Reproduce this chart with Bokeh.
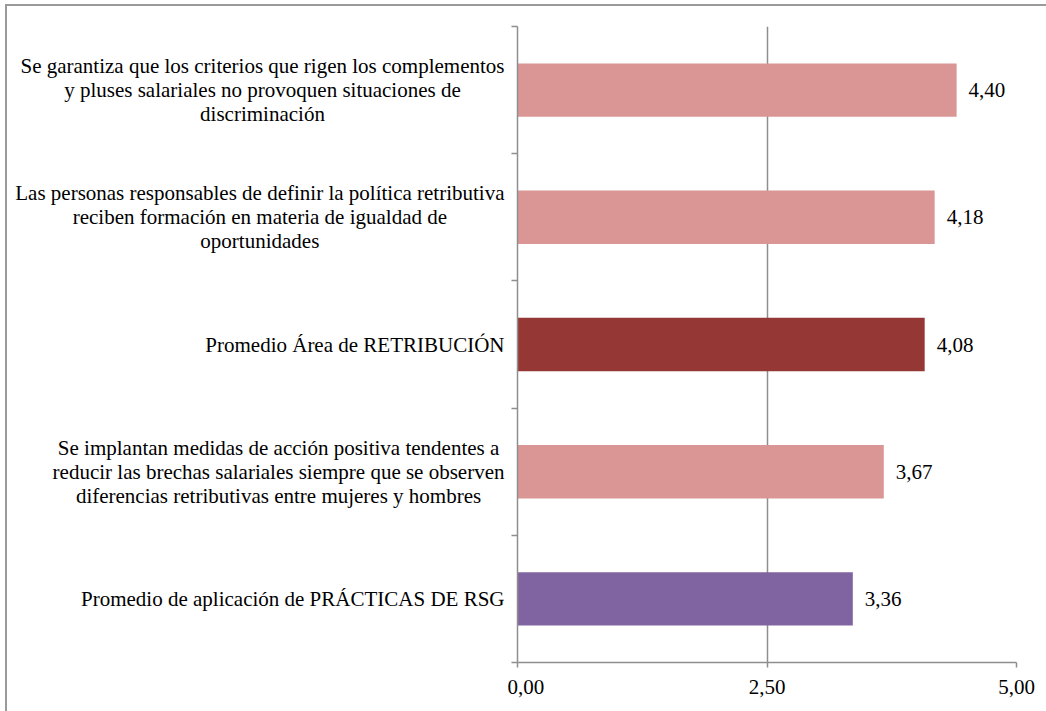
from bokeh.plotting import figure
from bokeh.layouts import row
from bokeh.models import ColumnDataSource, Range1d, FixedTicker
from bokeh.core.properties import value
from bokeh.embed import file_html
from bokeh.resources import INLINE

# Survey items (top to bottom) and their mean scores
categories = [
    "Se garantiza que los criterios que rigen los complementos\ny pluses salariales no provoquen situaciones de\ndiscriminación",
    "Las personas responsables de definir la política retributiva\nreciben formación en materia de igualdad de\noportunidades",
    "Promedio Área de RETRIBUCIÓN",
    "Se implantan medidas de acción positiva tendentes a\nreducir las brechas salariales siempre que se observen\ndiferencias retributivas entre mujeres y hombres",
    "Promedio de aplicación de PRÁCTICAS DE RSG",
]
scores = [4.40, 4.18, 4.08, 3.67, 3.36]
bar_colors = ["#D99694", "#D99694", "#953735", "#D99694", "#8064A2"]
x_ticks = [0.0, 2.5, 5.0]

FONT = '"Liberation Serif", "Times New Roman", serif'
FONT_SIZE = "21px"
GRID = "#8e8e8e"
TOP, BOTTOM, HEIGHT = 20, 49, 705
LABEL_W, PLOT_W = 500, 539


def es_num(v):
    return f"{v:.2f}".replace(".", ",")


n = len(categories)
ypos = [n - i - 0.5 for i in range(n)]
y_range = Range1d(0, n)

src = ColumnDataSource(dict(
    y=ypos,
    score=scores,
    color=bar_colors,
    label=[es_num(v) for v in scores],
    cat=categories,
    xl=[1.0] * n,
))

# ---- category labels panel ----
lab = figure(
    width=LABEL_W, height=HEIGHT, x_range=Range1d(0, 1), y_range=y_range,
    x_axis_type=None, y_axis_type=None,
    output_backend="svg", toolbar_location=None,
    min_border_left=0, min_border_right=0,
    min_border_top=TOP, min_border_bottom=BOTTOM,
)
lab.outline_line_color = None
lab.grid.grid_line_color = None
lab.text(x="xl", y="y", text="cat", source=src, x_offset=-3,
         anchor="center_right", text_align="center", text_baseline="middle",
         text_font=value(FONT), text_font_size=FONT_SIZE, text_color="#000000",
         text_line_height=1.0)

# ---- bar panel ----
p = figure(
    width=PLOT_W, height=HEIGHT,
    x_range=Range1d(0, 5), y_range=y_range,
    output_backend="svg", toolbar_location=None,
    min_border_left=10, min_border_right=30,
    min_border_top=TOP, min_border_bottom=BOTTOM,
)
p.outline_line_color = None

p.hbar(y="y", left=0, right="score", height=0.42, fill_color="color",
       line_color=None, source=src)

p.text(x="score", y="y", text="label", source=src, x_offset=12,
       text_align="left", text_baseline="middle",
       text_font=value(FONT), text_font_size=FONT_SIZE, text_color="#000000")

xa = p.xaxis[0]
xa.ticker = FixedTicker(ticks=x_ticks)
xa.major_label_overrides = {t: es_num(t) for t in x_ticks}
xa.axis_line_color = GRID
xa.axis_line_width = 1.5
xa.major_tick_line_color = GRID
xa.major_tick_line_width = 1.5
xa.major_tick_out = 5
xa.major_tick_in = 0
xa.minor_tick_line_color = None
xa.major_label_standoff = 12
xa.major_label_text_font = FONT
xa.major_label_text_font_size = FONT_SIZE
xa.major_label_text_color = "#000000"

p.xgrid.ticker = FixedTicker(ticks=x_ticks)
p.xgrid.grid_line_color = GRID
p.xgrid.grid_line_width = 1.5
p.ygrid.grid_line_color = None

# y axis: only small marks on the category boundaries, no labels
ya = p.yaxis[0]
ya.ticker = FixedTicker(ticks=[], minor_ticks=list(range(n + 1)))
ya.axis_line_color = GRID
ya.axis_line_width = 1.5
ya.major_tick_line_color = None
ya.minor_tick_line_color = GRID
ya.minor_tick_line_width = 1.5
ya.minor_tick_out = 6
ya.minor_tick_in = 0
ya.major_label_standoff = 0

layout = row(lab, p, spacing=0, styles={
    "margin-left": "5px", "margin-top": "4px",
    "border-left": "2px solid #9a9a9a", "border-top": "2px solid #9a9a9a",
    "background-color": "white",
})

open("out.html", "w").write(file_html(layout, INLINE))
